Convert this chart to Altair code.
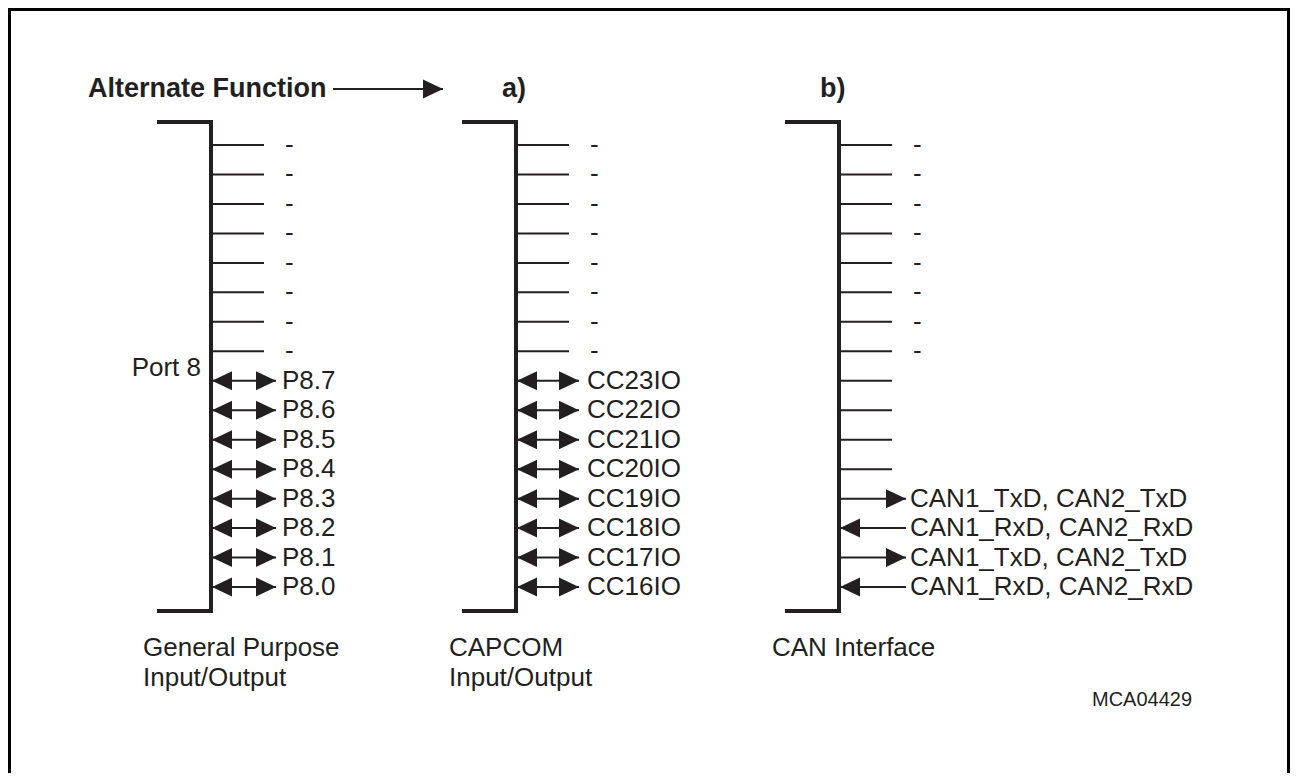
import altair as alt
import pandas as pd

# ---------------- content ----------------
title_text = "Alternate Function"
panel_tags = ["a)", "b)"]
port_label = "Port 8"
gpio_pins = ["P8.7", "P8.6", "P8.5", "P8.4", "P8.3", "P8.2", "P8.1", "P8.0"]
capcom_pins = ["CC23IO", "CC22IO", "CC21IO", "CC20IO", "CC19IO", "CC18IO", "CC17IO", "CC16IO"]
can_pins = ["CAN1_TxD, CAN2_TxD", "CAN1_RxD, CAN2_RxD", "CAN1_TxD, CAN2_TxD", "CAN1_RxD, CAN2_RxD"]
can_dirs = ["out", "in", "out", "in"]
unused_label = "-"
n_unused = 8            # upper 8 bits of each port register are unused
n_rows = 16
captions = [["General Purpose", "Input/Output"], ["CAPCOM", "Input/Output"], ["CAN Interface"]]
figure_id = "MCA04429"

# ---------------- layout (diagram pixel units) ----------------
W, H = 1282, 765
BUS_X = [211, 516, 839]          # vertical bus line of each block
BRACKET_LEN = 52
BUS_TOP, BUS_BOT = 122, 611
ROW_Y0, ROW_DY = 145, 29.47
STUB_LEN = 53
DASH_DX = 74
ARROW_LEN = [65, 63, 67]
LABEL_DX = 71
CAPTION_X = [143, 449, 772]
CAPTION_Y = [648, 678]
TAG_X = [502, 820]
TITLE_X, TITLE_Y = 88, 89
TITLE_ARROW = (333, 443)
INK = "#231f20"
FONT = "Liberation Sans"
FS = 26

HEAD_R = "M0,0L-2,-0.95L-2,0.95Z"
HEAD_L = "M0,0L2,-0.95L2,0.95Z"


def row_y(i):
    return ROW_Y0 + i * ROW_DY


# ---------------- build tables ----------------
thick, thin, heads, labels = [], [], [], []

# brackets
for bx in BUS_X:
    thick.append(dict(x=bx, x2=bx, y=BUS_TOP, y2=BUS_BOT))
    thick.append(dict(x=bx - BRACKET_LEN, x2=bx, y=BUS_TOP, y2=BUS_TOP))
    thick.append(dict(x=bx - BRACKET_LEN, x2=bx, y=BUS_BOT, y2=BUS_BOT))

# unused rows (stubs with dash)
for c, bx in enumerate(BUS_X):
    for i in range(n_unused):
        y = row_y(i)
        thin.append(dict(x=bx, x2=bx + STUB_LEN, y=y, y2=y))
        labels.append(dict(x=bx + DASH_DX, y=y, text=unused_label, side="left"))

# bidirectional pins for GPIO and CAPCOM
for c, pins in enumerate([gpio_pins, capcom_pins]):
    bx = BUS_X[c]
    for k, name in enumerate(pins):
        y = row_y(n_unused + k)
        tip = bx + ARROW_LEN[c]
        thin.append(dict(x=bx, x2=tip, y=y, y2=y))
        heads.append(dict(x=bx + 1, y=y, shape=HEAD_L))
        heads.append(dict(x=tip, y=y, shape=HEAD_R))
        labels.append(dict(x=bx + LABEL_DX, y=y, text=name, side="left"))

# CAN block: unused lower stubs then directional pins
bx = BUS_X[2]
n_can_empty = n_rows - n_unused - len(can_pins)
for k in range(n_can_empty):
    y = row_y(n_unused + k)
    thin.append(dict(x=bx, x2=bx + STUB_LEN, y=y, y2=y))
for k, (name, d) in enumerate(zip(can_pins, can_dirs)):
    y = row_y(n_unused + n_can_empty + k)
    tip = bx + ARROW_LEN[2]
    thin.append(dict(x=bx, x2=tip, y=y, y2=y))
    if d == "out":
        heads.append(dict(x=tip, y=y, shape=HEAD_R))
    else:
        heads.append(dict(x=bx + 1, y=y, shape=HEAD_L))
    labels.append(dict(x=bx + LABEL_DX, y=y, text=name, side="left"))

# port label
labels.append(dict(x=BUS_X[0] - 10, y=368, text=port_label, side="right"))

# captions
for c, lines in enumerate(captions):
    for j, t in enumerate(lines):
        labels.append(dict(x=CAPTION_X[c], y=CAPTION_Y[j], text=t, side="left"))

# title arrow
thin.append(dict(x=TITLE_ARROW[0], x2=TITLE_ARROW[1], y=TITLE_Y, y2=TITLE_Y))
heads.append(dict(x=TITLE_ARROW[1], y=TITLE_Y, shape=HEAD_R))

bold = [dict(x=TITLE_X, y=TITLE_Y, text=title_text)]
for tx, tag in zip(TAG_X, panel_tags):
    bold.append(dict(x=tx, y=TITLE_Y, text=tag))

small = [dict(x=1092, y=700, text=figure_id)]
frame = [dict(x=9.5, x2=1288.5, y=9.5, y2=900)]

xs = alt.Scale(domain=[8, 8 + W])
ys = alt.Scale(domain=[8, 8 + H], reverse=True)
X = lambda f="x": alt.X(f"{f}:Q", scale=xs, axis=None)
Y = lambda f="y": alt.Y(f"{f}:Q", scale=ys, axis=None)

frame_layer = alt.Chart(pd.DataFrame(frame)).mark_rect(
    fill=None, stroke="#000000", strokeWidth=3, clip=False
).encode(x=X(), x2="x2:Q", y=Y(), y2="y2:Q")

thick_layer = alt.Chart(pd.DataFrame(thick)).mark_rule(
    color=INK, strokeWidth=4, strokeCap="square"
).encode(x=X(), x2="x2:Q", y=Y(), y2="y2:Q")

thin_layer = alt.Chart(pd.DataFrame(thin)).mark_rule(
    color=INK, strokeWidth=2
).encode(x=X(), x2="x2:Q", y=Y(), y2="y2:Q")

head_layer = alt.Chart(pd.DataFrame(heads)).mark_point(
    filled=True, color=INK, opacity=1, size=400, strokeWidth=0
).encode(x=X(), y=Y(), shape=alt.Shape("shape:N", scale=None, legend=None))

lab_df = pd.DataFrame(labels)
label_left = alt.Chart(lab_df[lab_df["side"] == "left"]).mark_text(
    align="left", baseline="middle", font=FONT, fontSize=FS, color=INK
).encode(x=X(), y=Y(), text="text:N")
label_right = alt.Chart(lab_df[lab_df["side"] == "right"]).mark_text(
    align="right", baseline="middle", font=FONT, fontSize=FS, color=INK
).encode(x=X(), y=Y(), text="text:N")

bold_layer = alt.Chart(pd.DataFrame(bold)).mark_text(
    align="left", baseline="middle", font=FONT, fontSize=27, fontWeight="bold", color=INK
).encode(x=X(), y=Y(), text="text:N")

small_layer = alt.Chart(pd.DataFrame(small)).mark_text(
    align="left", baseline="middle", font=FONT, fontSize=20, color=INK
).encode(x=X(), y=Y(), text="text:N")

chart = alt.layer(
    frame_layer, thick_layer, thin_layer, head_layer,
    label_left, label_right, bold_layer, small_layer
).properties(
    width=W, height=H, padding=0, autosize="none", background="#ffffff"
).configure_view(strokeWidth=0)

chart.save("out.html", embed_options={"renderer": "svg", "actions": False})
